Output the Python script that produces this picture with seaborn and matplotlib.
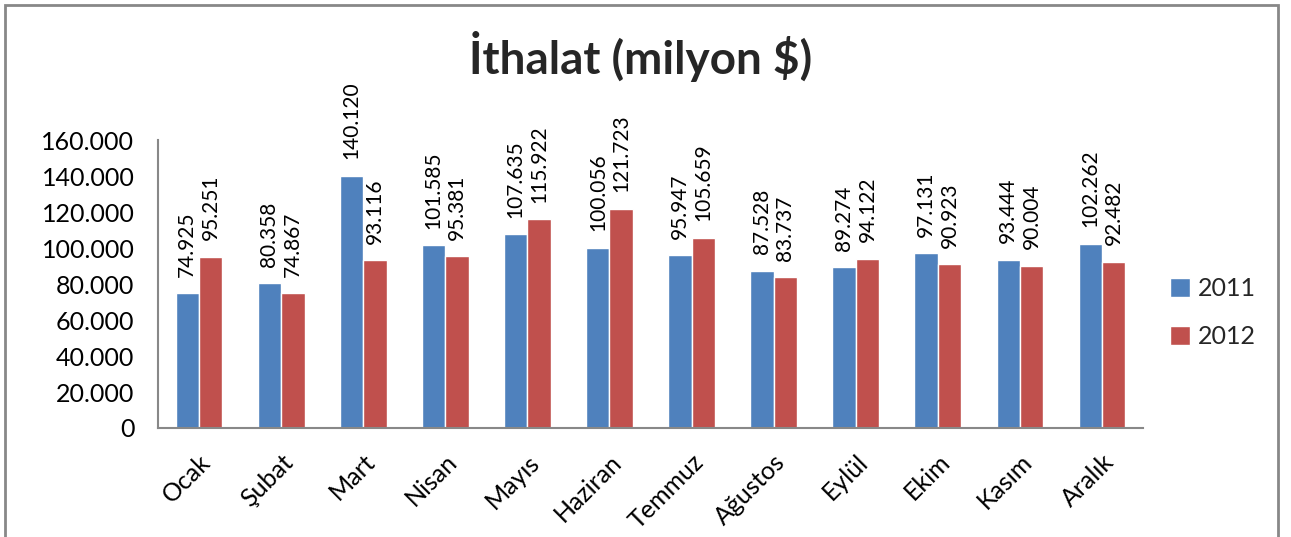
import matplotlib
matplotlib.use("Agg")
import matplotlib.pyplot as plt
import seaborn as sns
import pandas as pd
from matplotlib.patches import Rectangle
from matplotlib.ticker import FuncFormatter

months = ["Ocak", "Şubat", "Mart", "Nisan", "Mayıs", "Haziran", "Temmuz",
          "Ağustos", "Eylül", "Ekim", "Kasım", "Aralık"]
years = ["2011", "2012"]
values_2011 = [74925, 80358, 140120, 101585, 107635, 100056, 95947, 87528, 89274, 97131, 93444, 102262]
values_2012 = [95251, 74867, 93116, 95381, 115922, 121723, 105659, 83737, 94122, 90923, 90004, 92482]
yticks = [0, 20000, 40000, 60000, 80000, 100000, 120000, 140000, 160000]
title = "İthalat (milyon $)"

df = pd.DataFrame({
    "Ay": months * 2,
    "Yıl": [years[0]] * 12 + [years[1]] * 12,
    "Değer": values_2011 + values_2012,
})

sns.set_theme(style="white")
plt.rcParams["font.family"] = ["Lato", "DejaVu Sans"]

def tr(v):
    return f"{int(round(v)):,}".replace(",", ".")

fig = plt.figure(figsize=(12.91, 5.37), dpi=100)
ax = fig.add_axes([0.1224, 0.203, 0.763, 0.536])

colors = ["#4F81BD", "#C0504D"]
sns.barplot(data=df, x="Ay", y="Değer", hue="Yıl", order=months, hue_order=years,
            palette=colors, width=0.57, saturation=1, ax=ax, legend=True)

for cont in ax.containers:
    ax.bar_label(cont, labels=[tr(b.get_height()) for b in cont], rotation=90,
                 padding=12, fontsize=15, color="#000000")

ax.set_ylim(0, 160000)
ax.set_xlim(-0.5, 11.5)
ax.set_yticks(yticks)
ax.yaxis.set_major_formatter(FuncFormatter(lambda v, p: tr(v)))
ax.tick_params(axis="y", labelsize=18, length=0, pad=17, colors="#000000")
ax.tick_params(axis="x", labelsize=18, length=0, pad=16, colors="#000000")
plt.setp(ax.get_xticklabels(), rotation=45, ha="right", rotation_mode="anchor")
ax.set_xlabel("")
ax.set_ylabel("")
for s in ["top", "right"]:
    ax.spines[s].set_visible(False)
for s in ["left", "bottom"]:
    ax.spines[s].set_color("#888888")
    ax.spines[s].set_linewidth(1.5)

ax.legend(loc="center left", bbox_to_anchor=(1.005, 0.40), frameon=False,
          fontsize=18, handlelength=0.8, handleheight=0.8, handletextpad=0.3,
          labelspacing=1.0)

fig.text(0.496, 0.895, title, ha="center", va="center", fontsize=33, fontweight="bold")

fig.patches.append(Rectangle((5 / 1291, -0.1), (1278 - 5) / 1291, 1 - 5 / 537 + 0.1,
                             transform=fig.transFigure, fill=False,
                             edgecolor="#888888", linewidth=2))

fig.savefig("out.png", dpi=100)
